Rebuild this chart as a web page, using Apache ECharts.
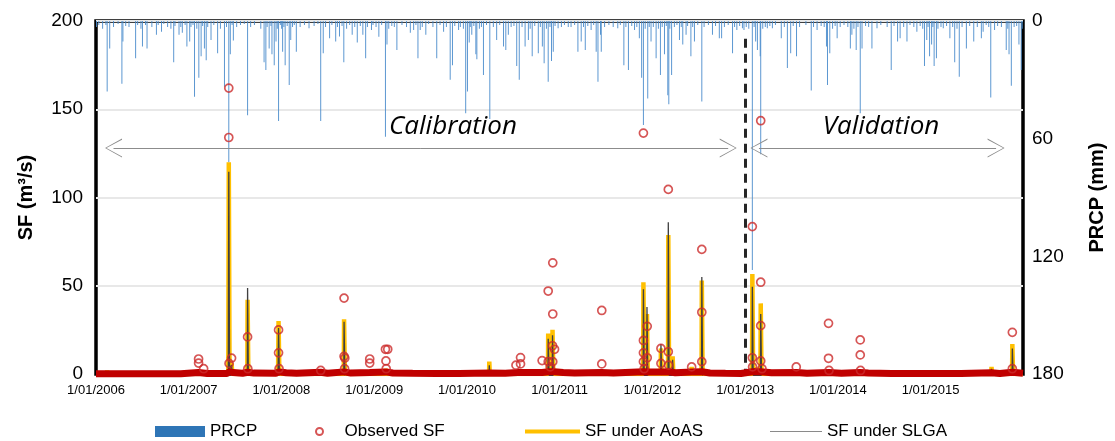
<!DOCTYPE html>
<html>
<head>
<meta charset="utf-8">
<script src="https://cdn.jsdelivr.net/npm/echarts@6/dist/echarts.min.js"></script>
<style>
html, body { margin: 0; padding: 0; background: #fff; }
#chart { width: 1115px; height: 441px; }
</style>
</head>
<body>
<div id="chart"></div>
<script>
// daily rainfall (mm): [year, day of year, mm]
var prcpBig = [
    [2006,45,36],[2006,55,14],[2006,103,32],[2006,107,10.5],[2006,157,19],[2006,184,13],[2006,202,14],[2006,239,7],[2006,259,5.5],[2006,307,21],[2006,328,7],[2006,341,6],[2006,359,13],
    [2007,5,10.5],[2007,24,38.6],[2007,41,29],[2007,50,18],[2007,63,14],[2007,70,20],[2007,89,9.7],[2007,115,16.5],[2007,142,33.5],[2007,159,72],[2007,165,17],[2007,177,10],[2007,233,48],[2007,298,21],[2007,305,25],[2007,318,14],[2007,329,17],[2007,338,22.5],[2007,345,10.5],[2007,355,51],
    [2008,6,15.7],[2008,16,22.5],[2008,32,32.6],[2008,38,9.7],[2008,60,15.7],[2008,110,3.7],[2008,156,51],[2008,166,16.5],[2008,191,8.8],[2008,215,10.5],[2008,230,7.9],[2008,247,21],[2008,280,7],[2008,300,11],[2008,322,7],[2008,333,19],[2008,356,4.6],
    [2009,19,8],[2009,45,59],[2009,51,12],[2009,90,14.8],[2009,143,6],[2009,156,4.6],[2009,173,19],[2009,182,4.6],[2009,204,7],[2009,247,19],[2009,274,5.5],[2009,300,30],[2009,309,22.5],[2009,333,4.6],[2009,361,47],
    [2010,3,36],[2010,10,11],[2010,20,7],[2010,36,17],[2010,40,19.5],[2010,66,27.5],[2010,91,50],[2010,118,9.7],[2010,145,13],[2010,154,14.8],[2010,164,7],[2010,197,23],[2010,207,30],[2010,230,13],[2010,243,9.7],[2010,258,18],[2010,282,16.5],[2010,298,13],[2010,305,21.6],[2010,321,31],[2010,334,20.4],[2010,341,15.7],[2010,360,3.7],
    [2011,46,3],[2011,73,15.7],[2011,86,10.5],[2011,102,14.8],[2011,125,4.6],[2011,145,15.7],[2011,152,31],[2011,162,7],[2011,165,15.7],[2011,230,3.7],[2011,254,22.5],[2011,272,25],[2011,296,4.6],[2011,315,8.8],[2011,324,29],[2011,331,53],[2011,348,39.5],[2011,361,10.5],
    [2012,16,19],[2012,33,27.5],[2012,49,17],[2012,62,37.8],[2012,66,42.5],[2012,77,27.5],[2012,108,9.7],[2012,121,12],[2012,134,7],[2012,153,18],[2012,167,10.5],[2012,196,41],[2012,238,7],[2012,265,8.8],[2012,274,8.8],[2012,317,16.5],[2012,334,4.6],[2012,356,3.7],[2012,362,4.6],
    [2013,29,127],[2013,42,10.5],[2013,49,14.8],[2013,60,18],[2013,62,68],[2013,88,3.7],[2013,108,3.7],[2013,143,8.8],[2013,167,24],[2013,180,16.5],[2013,203,18],[2013,261,35.5],[2013,284,4.6],[2013,321,13],[2013,325,32.6],[2013,334,16.5],[2013,363,8.8],
    [2014,50,14],[2014,56,7],[2014,73,14.8],[2014,89,47],[2014,96,14],[2014,135,14],[2014,155,3.7],[2014,211,25],[2014,236,10.5],[2014,246,8.8],[2014,273,10.5],[2014,312,5.5],[2014,342,23],[2014,351,9.7],[2014,362,18],
    [2015,5,12],[2015,15,23],[2015,24,19],[2015,51,3.7],[2015,77,8.8],[2015,96,21],[2015,114,28.4],[2015,142,14],[2015,171,10.5],[2015,201,8.8],[2015,208,5.5],[2015,238,39],[2015,253,4.6],[2015,299,14.8],[2015,310,17],[2015,319,33],[2015,349,12],[2015,358,25]
];
// the dense fringe of small falls along the top edge
var prcpSmall = [
    [2006,3,3],[2006,12,2],[2006,27,4],[2006,40,2],[2006,70,3],[2006,88,1.5],[2006,118,2.5],[2006,131,3],[2006,165,2],[2006,178,4],[2006,196,2],[2006,221,3],[2006,246,2],[2006,268,1.5],[2006,283,3],[2006,296,4],[2006,312,2.5],[2006,335,3],[2006,352,2],
    [2007,10,3],[2007,18,2],[2007,33,4],[2007,56,2.5],[2007,76,3],[2007,100,2],[2007,126,4],[2007,150,3],[2007,172,2],[2007,190,3],[2007,205,2],[2007,220,1.5],[2007,245,3],[2007,260,2],[2007,285,4],[2007,310,3],[2007,325,2.5],[2007,350,4],[2007,362,2],
    [2008,2,4],[2008,11,3],[2008,24,2.5],[2008,45,3],[2008,52,2],[2008,75,3],[2008,92,2],[2008,130,2.5],[2008,145,1.5],[2008,175,3],[2008,200,2],[2008,222,3],[2008,240,2.5],[2008,258,4],[2008,270,2],[2008,290,3],[2008,312,2.5],[2008,340,3],[2008,362,2],
    [2009,8,3],[2009,30,2],[2009,58,4],[2009,70,2.5],[2009,80,3],[2009,110,2],[2009,128,3],[2009,165,2],[2009,190,3],[2009,215,1.5],[2009,232,3],[2009,260,2],[2009,285,3],[2009,318,2.5],[2009,340,3],[2009,352,4],
    [2010,14,3],[2010,28,2.5],[2010,50,4],[2010,58,3],[2010,78,2],[2010,105,3],[2010,130,2],[2010,175,3],[2010,186,2.5],[2010,218,3],[2010,250,4],[2010,268,2.5],[2010,290,3],[2010,314,4],[2010,328,3],[2010,348,2.5],
    [2011,8,3],[2011,20,2],[2011,35,3],[2011,60,2],[2011,95,3],[2011,112,2.5],[2011,135,2],[2011,178,3],[2011,195,2],[2011,212,3],[2011,240,2],[2011,262,3],[2011,285,2.5],[2011,305,3],[2011,338,4],[2011,354,3],
    [2012,5,3],[2012,25,4],[2012,40,3],[2012,56,2.5],[2012,70,4],[2012,88,3],[2012,98,2],[2012,115,3],[2012,140,2.5],[2012,160,3],[2012,180,2],[2012,205,3],[2012,222,2],[2012,250,2.5],[2012,285,3],[2012,300,2],[2012,325,3],[2012,345,2.5],
    [2013,5,3],[2013,15,4],[2013,36,3],[2013,70,4],[2013,80,3],[2013,98,2.5],[2013,120,2],[2013,155,3],[2013,190,2.5],[2013,215,3],[2013,240,2],[2013,270,3],[2013,300,2.5],[2013,312,3],[2013,345,4],[2013,355,2.5],
    [2014,10,3],[2014,25,2],[2014,40,3],[2014,64,4],[2014,80,3],[2014,110,2.5],[2014,122,3],[2014,170,2],[2014,195,3],[2014,222,2.5],[2014,260,3],[2014,285,2],[2014,300,3],[2014,325,2.5],[2014,335,4],[2014,356,3],
    [2015,10,3],[2015,30,4],[2015,42,3],[2015,64,2.5],[2015,88,3],[2015,105,4],[2015,125,3],[2015,155,2.5],[2015,185,3],[2015,220,2],[2015,230,3],[2015,265,2.5],[2015,280,3],[2015,305,4],[2015,330,3],[2015,340,2.5],[2015,362,4]
];

// observed streamflow (m3/s), event points
var obsSF = [
    ['2007-02-09',8.5],['2007-02-09',6.2],['2007-03-01',3],
    ['2007-06-08',162],['2007-06-08',134],['2007-06-09',6],['2007-06-19',9],
    ['2007-08-21',21],['2007-08-22',3],
    ['2007-12-21',25],['2007-12-21',12],['2007-12-23',3],
    ['2008-06-04',2],
    ['2008-09-04',43],['2008-09-04',10],['2008-09-07',9],['2008-09-06',3],
    ['2008-12-14',8.5],['2008-12-14',6.2],
    ['2009-02-14',14],['2009-02-23',14],['2009-02-16',7.4],['2009-02-17',3],
    ['2010-07-13',5],['2010-07-31',9.3],['2010-07-31',5.7],
    ['2010-10-24',7.6],
    ['2010-11-17',47],['2010-11-17',7],['2010-12-05',63],['2010-12-05',34],['2010-12-05',7],['2010-12-04',16],['2010-12-12',14],['2010-11-25',4],
    ['2011-06-16',36],['2011-06-16',5.7],
    ['2011-11-27',136.5],['2011-11-27',19],['2011-11-27',12],['2011-11-27',7],['2011-12-12',27],['2011-12-12',9.2],['2011-11-30',3],
    ['2012-02-04',14.5],['2012-02-04',6],
    ['2012-03-04',104.6],['2012-03-04',12.6],['2012-03-05',5],
    ['2012-06-04',4],
    ['2012-07-14',70.6],['2012-07-14',35],['2012-07-14',7],
    ['2013-01-29',83.5],['2013-01-29',9.2],['2013-01-30',4],
    ['2013-03-03',143.5],['2013-03-03',52],['2013-03-03',27.4],['2013-03-03',7.4],['2013-03-08',3],
    ['2013-07-21',4],
    ['2013-11-25',28.7],['2013-11-25',8.9],['2013-11-27',2],
    ['2014-03-30',19.3],['2014-03-30',10.8],['2014-03-31',2],
    ['2015-11-19',23.6],['2015-11-19',3]
];
// observed low flow between events (drawn as the red band on the zero line)
var obsBase = [
    ['2006-01-01',0.2],['2006-03-01',0.2],['2006-06-01',0.2],['2006-09-01',0.1],['2006-12-01',0.1],
    ['2007-02-09',0.8],['2007-03-15',0.3],['2007-06-01',0.3],['2007-06-10',1.3],['2007-06-25',0.8],['2007-08-01',0.4],['2007-08-22',1],['2007-09-15',0.5],
    ['2007-12-10',0.4],['2007-12-22',1.2],['2008-01-20',0.7],['2008-03-01',0.4],['2008-06-04',1],['2008-07-01',0.4],['2008-09-05',1.2],['2008-10-01',0.5],
    ['2008-12-14',0.8],['2009-02-16',1.2],['2009-03-15',0.6],['2009-06-01',0.4],['2009-09-01',0.3],['2009-12-01',0.3],['2010-03-31',0.6],['2010-06-01',0.4],
    ['2010-07-20',0.8],['2010-10-24',0.8],['2010-11-20',1.3],['2010-12-10',1.3],['2011-01-15',0.8],['2011-03-01',0.6],['2011-06-16',0.8],['2011-08-01',0.5],
    ['2011-11-27',1.3],['2011-12-15',1.1],['2012-02-05',1.1],['2012-03-05',1.3],['2012-04-01',0.7],['2012-06-04',1.1],['2012-07-15',1.3],['2012-08-15',0.6],
    ['2012-10-15',0.4],['2012-12-15',0.3],['2013-01-29',1.3],['2013-03-03',1.3],['2013-04-15',0.7],['2013-07-22',0.8],['2013-09-01',0.4],['2013-11-26',0.8],
    ['2014-01-15',0.4],['2014-03-30',0.8],['2014-05-01',0.5],['2014-08-01',0.3],['2014-11-01',0.3],['2015-02-01',0.3],['2015-05-01',0.3],['2015-08-29',0.7],
    ['2015-10-01',0.3],['2015-11-19',1],['2015-12-31',0.4]
];

// simulated streamflow, AoAS soil input
var aoasFlow = [
    ['2006-01-01',0],['2006-02-13',0],['2006-02-14',2],['2006-02-16',0],
    ['2007-06-06',0],['2007-06-08',120],['2007-06-11',3],['2007-06-19',6],['2007-06-22',0],
    ['2007-08-20',0],['2007-08-21',42],['2007-08-24',0],
    ['2007-12-19',0],['2007-12-21',30],['2007-12-24',2],['2007-12-28',0],
    ['2008-06-03',0],['2008-06-04',2],['2008-06-06',0],
    ['2008-09-03',0],['2008-09-04',31],['2008-09-07',2],['2008-09-10',0],
    ['2009-02-14',0],['2009-02-15',3],['2009-02-18',0],
    ['2010-03-29',0],['2010-03-30',7],['2010-04-01',0],
    ['2010-11-16',0],['2010-11-17',23],['2010-11-20',2],['2010-12-03',2],['2010-12-04',25],['2010-12-07',2],['2010-12-12',0],
    ['2011-11-26',0],['2011-11-27',52],['2011-11-30',3],['2011-12-10',2],['2011-12-11',34],['2011-12-14',2],['2011-12-20',0],
    ['2012-02-03',0],['2012-02-04',14.5],['2012-02-07',0],
    ['2012-03-03',0],['2012-03-04',78.8],['2012-03-07',3],['2012-03-20',2],['2012-03-21',10],['2012-03-24',0],
    ['2012-06-03',0],['2012-06-04',4],['2012-06-06',0],
    ['2012-07-13',0],['2012-07-14',53],['2012-07-17',2],['2012-07-22',0],
    ['2013-01-28',0],['2013-01-29',56.7],['2013-02-01',3],['2013-03-02',2],['2013-03-03',40],['2013-03-06',2],['2013-03-12',0],
    ['2014-12-23',0],['2014-12-24',2],['2014-12-26',0],
    ['2015-04-22',0],['2015-04-23',2],['2015-04-25',0],
    ['2015-08-28',0],['2015-08-29',4],['2015-08-31',0],
    ['2015-11-18',0],['2015-11-19',17],['2015-11-22',0],['2015-12-31',0]
];
// simulated streamflow, SLGA soil input
var slgaFlow = [
    ['2006-01-01',0],['2006-02-13',0],['2006-02-14',1.5],['2006-02-16',0],
    ['2007-06-06',0],['2007-06-08',114.6],['2007-06-11',3],['2007-06-19',5],['2007-06-22',0],
    ['2007-08-20',0],['2007-08-21',48.7],['2007-08-24',0],
    ['2007-12-19',0],['2007-12-21',26],['2007-12-24',2],['2007-12-28',0],
    ['2008-09-03',0],['2008-09-04',29.6],['2008-09-07',2],['2008-09-10',0],
    ['2010-03-29',0],['2010-03-30',5],['2010-04-01',0],
    ['2010-11-16',0],['2010-11-17',20],['2010-11-20',2],['2010-12-03',2],['2010-12-04',22],['2010-12-07',2],['2010-12-12',0],
    ['2011-11-26',0],['2011-11-27',48],['2011-11-30',3],['2011-12-10',2],['2011-12-11',38],['2011-12-14',2],['2011-12-20',0],
    ['2012-02-03',0],['2012-02-04',17],['2012-02-07',0],
    ['2012-03-03',0],['2012-03-04',86],['2012-03-07',3],['2012-03-20',2],['2012-03-21',8],['2012-03-24',0],
    ['2012-07-13',0],['2012-07-14',55],['2012-07-17',2],['2012-07-22',0],
    ['2013-01-28',0],['2013-01-29',49.5],['2013-02-01',3],['2013-03-02',2],['2013-03-03',34],['2013-03-06',2],['2013-03-12',0],
    ['2015-08-28',0],['2015-08-29',3],['2015-08-31',0],
    ['2015-11-18',0],['2015-11-19',14.5],['2015-11-22',0],['2015-12-31',0]
];

var yearTicks = ['2006-01-01','2007-01-01','2008-01-01','2009-01-01','2010-01-01','2011-01-01','2012-01-01','2013-01-01','2014-01-01','2015-01-01'];
var splitDate = '2013-01-01';
// arrow spans (centres of the arrow heads) and their height on the SF axis
var calibSpan = ['2006-03-11', '2012-10-26'];
var validSpan = ['2013-02-24', '2015-09-16'];
var arrowLevel = 128;

function day(y, d) { return new Date(y, 0, d).getTime(); }
function t(s) {
    var p = s.split('-');
    return new Date(+p[0], +p[1] - 1, +p[2]).getTime();
}
function fmtDate(v) {
    var d = new Date(v);
    var m = d.getMonth() + 1;
    return d.getDate() + '/' + (m < 10 ? '0' + m : m) + '/' + d.getFullYear();
}
function toTime(rows) { return rows.map(function (r) { return [t(r[0]), r[1]]; }); }

var prcpData = prcpSmall.concat(prcpBig).map(function (r) { return [day(r[0], r[1]), r[2]]; });
prcpData.sort(function (a, b) { return a[0] - b[0]; });

var chevron = 'path://M10,0L20,17L18.8,17L10,1.4L1.2,17L0,17Z';
var font = 'Liberation Sans';
var legendText = { fontSize: 17, color: '#000', fontFamily: font };

var myChart = echarts.init(document.getElementById('chart'));
var option = {
    animation: false,
    backgroundColor: '#fff',
    grid: {
        left: 96, right: 87, top: 21, bottom: 67,
        show: true, borderColor: '#000', borderWidth: 3.5
    },
    legend: [
        { left: 155, top: 423, padding: 0, itemWidth: 50, itemHeight: 11, textStyle: legendText,
          data: [{ name: 'PRCP', icon: 'rect', itemStyle: { color: '#2e75b6', opacity: 1 } }] },
        { left: 315, top: 423, padding: 0, itemWidth: 40, itemHeight: 7, textStyle: legendText,
          data: [{ name: 'Observed SF', icon: 'circle' }] },
        { left: 525, top: 423, padding: 0, itemWidth: 55, itemHeight: 4, textStyle: legendText,
          data: [{ name: 'SF under AoAS', icon: 'rect', itemStyle: { color: '#ffc000' } }] },
        { left: 770, top: 423, padding: 0, itemWidth: 52, itemHeight: 1.2, textStyle: legendText,
          data: [{ name: 'SF under SLGA', icon: 'rect', itemStyle: { color: '#8a8a8a' } }] }
    ],
    xAxis: {
        type: 'value',
        min: t('2006-01-01'),
        max: t('2015-12-31'),
        axisLine: { show: false },
        axisTick: { show: false },
        splitLine: { show: false },
        axisLabel: {
            customValues: yearTicks.map(t),
            formatter: fmtDate,
            fontSize: 13, color: '#000', fontFamily: font, margin: 10
        }
    },
    yAxis: [{
        type: 'value',
        min: 0, max: 200, interval: 50,
        position: 'left',
        name: 'SF (m\u00b3/s)',
        nameLocation: 'middle',
        nameGap: 60,
        nameTextStyle: { fontSize: 20, fontWeight: 'bold', color: '#000', fontFamily: font },
        axisLine: { show: false },
        axisTick: { show: false },
        axisLabel: { fontSize: 19, color: '#000', fontFamily: font, margin: 13 },
        splitLine: { lineStyle: { color: '#e8e8e8', width: 2 } }
    }, {
        type: 'value',
        min: 0, max: 180, interval: 60,
        inverse: true,
        position: 'right',
        name: 'PRCP (mm)',
        nameLocation: 'middle',
        nameRotate: 90,
        nameGap: 64,
        nameTextStyle: { fontSize: 20, fontWeight: 'bold', color: '#000', fontFamily: font },
        axisLine: { show: false },
        axisTick: { show: false },
        axisLabel: { fontSize: 19, color: '#000', fontFamily: font, margin: 9 },
        splitLine: { show: false }
    }],
    graphic: [
        { type: 'text', x: 453, y: 127, z: 50,
          style: { text: 'Calibration', font: 'italic 26px "Open Sans"', fill: '#000', align: 'center', verticalAlign: 'middle' } },
        { type: 'text', x: 881, y: 127, z: 50,
          style: { text: 'Validation', font: 'italic 26px "Open Sans"', fill: '#000', align: 'center', verticalAlign: 'middle' } }
    ],
    series: [{
        name: 'PRCP',
        type: 'bar',
        yAxisIndex: 1,
        barWidth: 1,
        data: prcpData,
        itemStyle: { color: '#4a8ccc', opacity: 0.9 },
        z: 1
    }, {
        name: 'SF under AoAS',
        type: 'line',
        symbol: 'none',
        data: toTime(aoasFlow),
        lineStyle: { color: '#ffc000', width: 4.5 },
        itemStyle: { color: '#ffc000' },
        z: 3
    }, {
        name: 'SF under SLGA',
        type: 'line',
        symbol: 'none',
        data: toTime(slgaFlow),
        lineStyle: { color: '#404040', width: 1.3 },
        itemStyle: { color: '#8a8a8a' },
        z: 4
    }, {
        name: 'obsBase',
        type: 'line',
        symbol: 'none',
        clip: false,
        data: toTime(obsBase),
        lineStyle: { color: '#c00000', width: 7 },
        z: 5
    }, {
        name: 'Observed SF',
        type: 'scatter',
        symbol: 'circle',
        symbolSize: 8,
        data: toTime(obsSF),
        itemStyle: { color: 'rgba(0,0,0,0)', borderColor: '#cc2b2b', borderWidth: 1.7 },
        z: 6,
        markLine: {
            silent: true,
            symbol: ['none', 'none'],
            label: { show: false },
            data: [
                [{ coord: [t(splitDate), 190], lineStyle: { color: '#262626', width: 3, type: [9, 6] } },
                 { coord: [t(splitDate), 0] }],
                [{ coord: [t(calibSpan[0]), arrowLevel], symbol: chevron, symbolSize: [19, 17], lineStyle: { color: '#8c8c8c', width: 1, type: 'solid' } },
                 { coord: [t(calibSpan[1]), arrowLevel], symbol: chevron, symbolSize: [19, 17] }],
                [{ coord: [t(validSpan[0]), arrowLevel], symbol: chevron, symbolSize: [19, 17], lineStyle: { color: '#8c8c8c', width: 1, type: 'solid' } },
                 { coord: [t(validSpan[1]), arrowLevel], symbol: chevron, symbolSize: [19, 17] }]
            ]
        }
    }]
};
myChart.setOption(option);
</script>
</body>
</html>
